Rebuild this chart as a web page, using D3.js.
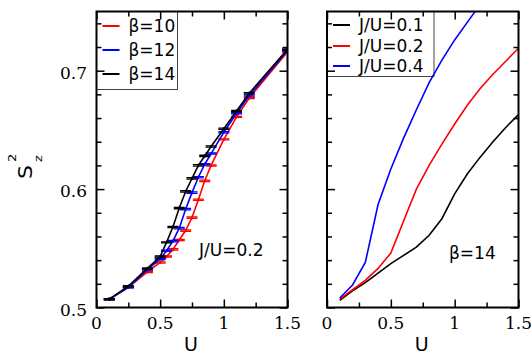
<!DOCTYPE html>
<html>
<head>
<meta charset="utf-8">
<script src="https://cdn.jsdelivr.net/npm/d3@7"></script>
<style>
  body { margin: 0; background: #fff; }
  svg { display: block; }
</style>
</head>
<body>
<svg id="chart" width="532" height="356"></svg>
<script>
// left panel : J/U=0.2, three temperatures, with error bars
const uLeft = [0.1, 0.25, 0.4, 0.5, 0.55, 0.6, 0.65, 0.7, 0.75, 0.8, 0.85, 0.9, 1.0, 1.1, 1.2, 1.5];
const sBeta10 = [0.507, 0.517, 0.530, 0.538, 0.543, 0.549, 0.557, 0.565, 0.576, 0.591, 0.607, 0.620, 0.642, 0.661, 0.677, 0.716];
const sBeta12 = [0.507, 0.517, 0.532, 0.541, 0.548, 0.556, 0.567, 0.583, 0.597, 0.610, 0.621, 0.630, 0.648, 0.664, 0.679, 0.717];
const sBeta14 = [0.507, 0.518, 0.533, 0.543, 0.555, 0.568, 0.584, 0.598, 0.609, 0.620, 0.628, 0.636, 0.651, 0.666, 0.681, 0.718];
const errBeta10 = [0.0005, 0.0005, 0.0005, 0.0005, 0.0005, 0.0006, 0.0006, 0.0006, 0.0006, 0.0006, 0.0006, 0.0005, 0.0005, 0.0005, 0.0005, 0.0005];
const errBeta12 = [0.0005, 0.0005, 0.0005, 0.0005, 0.0005, 0.0006, 0.0006, 0.0006, 0.0006, 0.0006, 0.0006, 0.0005, 0.0005, 0.0005, 0.0005, 0.0005];
const errBeta14 = [0.0005, 0.0005, 0.0005, 0.0005, 0.0005, 0.0006, 0.0006, 0.0006, 0.0006, 0.0006, 0.0006, 0.0005, 0.0005, 0.0005, 0.0005, 0.0005];
const leftNames = ['β=10', 'β=12', 'β=14'];

// right panel : beta=14, three Hund couplings
const uRight = [0.1, 0.2, 0.3, 0.4, 0.5, 0.6, 0.7, 0.8, 0.9, 1.0, 1.1, 1.2, 1.3, 1.4, 1.5];
const sJ01 = [0.506, 0.514, 0.521, 0.529, 0.537, 0.544, 0.551, 0.561, 0.575, 0.596, 0.613, 0.627, 0.640, 0.652, 0.663];
const sJ02 = [0.507, 0.515, 0.523, 0.533, 0.546, 0.573, 0.600, 0.620, 0.638, 0.655, 0.671, 0.685, 0.697, 0.708, 0.719];
const uJ04 = [0.1, 0.2, 0.3, 0.4, 0.5, 0.6, 0.7, 0.8, 0.9, 1.0, 1.1, 1.2];
const sJ04 = [0.508, 0.519, 0.538, 0.587, 0.617, 0.643, 0.667, 0.690, 0.709, 0.726, 0.741, 0.756];
const rightNames = ['J/U=0.1', 'J/U=0.2', 'J/U=0.4'];

const xTicks = [0, 0.5, 1, 1.5];
const xMinor = [0.25, 0.75, 1.25];
const yTicks = [0.5, 0.6, 0.7];
const yMinor = [0.52, 0.54, 0.56, 0.58, 0.62, 0.64, 0.66, 0.68, 0.72, 0.74];

const svg = d3.select('#chart');
const yTop = 11.5, yBot = 307.5;
const y = d3.scaleLinear().domain([0.5, 0.75]).range([yBot, yTop]);
const xL = d3.scaleLinear().domain([0, 1.5]).range([96.5, 287.5]);
const xR = d3.scaleLinear().domain([0, 1.5]).range([327, 518.5]);

const sans = 'DejaVu Sans, sans-serif';
const serif = 'DejaVu Serif, serif';

function clip(id, x) {
  svg.append('clipPath').attr('id', id)
    .append('rect')
    .attr('x', x.range()[0]).attr('y', yTop)
    .attr('width', x.range()[1] - x.range()[0]).attr('height', yBot - yTop);
}
clip('clipL', xL);
clip('clipR', xR);

// ticks pointing inwards on all four sides
function ticks(x) {
  const g = svg.append('g');
  const w = x.range()[1] - x.range()[0];
  const sides = [
    [() => d3.axisBottom(x), `translate(0,${yBot})`, xTicks, xMinor],
    [() => d3.axisTop(x), `translate(0,${yTop})`, xTicks, xMinor],
    [() => d3.axisLeft(y), `translate(${x.range()[0]},0)`, yTicks, yMinor],
    [() => d3.axisRight(y), `translate(${x.range()[1]},0)`, yTicks, yMinor]
  ];
  sides.forEach(([mk, tr, major, minor]) => {
    const a = g.append('g').attr('transform', tr)
      .call(mk().tickValues(major).tickSize(-8).tickFormat(''));
    const b = g.append('g').attr('transform', tr)
      .call(mk().tickValues(minor).tickSize(-5).tickFormat(''));
    [a, b].forEach(s => {
      s.select('.domain').remove();
      s.selectAll('line').attr('stroke', '#000').attr('stroke-width', 1.5);
    });
  });
  g.append('rect')
    .attr('x', x.range()[0]).attr('y', yTop)
    .attr('width', w).attr('height', yBot - yTop)
    .attr('fill', 'none').attr('stroke', '#000').attr('stroke-width', 2);
}

function legend(x0, y0, w, h, rows, names, colors) {
  const g = svg.append('g');
  g.append('rect').attr('x', x0).attr('y', y0).attr('width', w).attr('height', h)
    .attr('fill', '#fff').attr('stroke', '#444').attr('stroke-width', 1);
  names.forEach((n, i) => {
    g.append('line').attr('x1', x0 + 6).attr('x2', x0 + 23)
      .attr('y1', rows[i]).attr('y2', rows[i])
      .attr('stroke', colors[i]).attr('stroke-width', 2);
    g.append('text').attr('x', x0 + 32).attr('y', rows[i] + 6)
      .attr('font-family', sans).attr('font-size', 17).text(n);
  });
}

// ---- left panel
const leftSeries = [
  { s: sBeta10, e: errBeta10, c: '#ff0000' },
  { s: sBeta12, e: errBeta12, c: '#0000ff' },
  { s: sBeta14, e: errBeta14, c: '#000000' }
];
legend(96.5, 11.5, 81, 78, [26, 50, 74], leftNames, leftSeries.map(d => d.c));

const gl = svg.append('g').attr('clip-path', 'url(#clipL)');
leftSeries.forEach(ser => {
  const pts = uLeft.map((u, i) => [u, ser.s[i], ser.e[i]]);
  gl.append('path').datum(pts)
    .attr('d', d3.line().x(d => xL(d[0])).y(d => y(d[1])))
    .attr('fill', 'none').attr('stroke', ser.c).attr('stroke-width', 1.6);
  const eb = gl.append('g').attr('stroke', ser.c).attr('stroke-width', 1.3);
  pts.forEach(d => {
    const cx = xL(d[0]);
    eb.append('line').attr('x1', cx).attr('x2', cx)
      .attr('y1', y(d[1] - d[2]) + 1).attr('y2', y(d[1] + d[2]) - 1);
    [d[1] - d[2], d[1] + d[2]].forEach(v => {
      eb.append('line').attr('x1', cx - 5.5).attr('x2', cx + 5.5)
        .attr('y1', y(v)).attr('y2', y(v));
    });
  });
});
ticks(xL);

// ---- right panel
const rightSeries = [
  { u: uRight, s: sJ01, c: '#000000' },
  { u: uRight, s: sJ02, c: '#ff0000' },
  { u: uJ04, s: sJ04, c: '#0000ff' }
];
legend(327, 11.5, 107, 65, [25, 46, 66], rightNames, rightSeries.map(d => d.c));

const gr = svg.append('g').attr('clip-path', 'url(#clipR)');
rightSeries.forEach(ser => {
  gr.append('path').datum(ser.u.map((u, i) => [u, ser.s[i]]))
    .attr('d', d3.line().x(d => xR(d[0])).y(d => y(d[1])))
    .attr('fill', 'none').attr('stroke', ser.c).attr('stroke-width', 1.6);
});
ticks(xR);

// ---- tick labels
yTicks.forEach(v => {
  svg.append('text').attr('x', 87).attr('y', y(v) + 8)
    .attr('text-anchor', 'end').attr('font-family', serif).attr('font-size', 17)
    .text(d3.format('.1f')(v));
});
[xL, xR].forEach(x => {
  xTicks.forEach(v => {
    svg.append('text').attr('x', x(v)).attr('y', 329)
      .attr('text-anchor', 'middle').attr('font-family', serif).attr('font-size', 17)
      .text(v === 0 || v === 1 ? String(v) : v.toFixed(1));
  });
  svg.append('text').attr('x', (x.range()[0] + x.range()[1]) / 2 - 1).attr('y', 351)
    .attr('text-anchor', 'middle').attr('font-family', sans).attr('font-size', 19).text('U');
});

// ---- annotations
svg.append('text').attr('x', 199).attr('y', 256)
  .attr('font-family', sans).attr('font-size', 17).text('J/U=0.2');
svg.append('text').attr('x', 449).attr('y', 259)
  .attr('font-family', sans).attr('font-size', 17).text('β=14');

// y label S_z^2
const yl = svg.append('g').attr('transform', 'translate(32,179) rotate(-90) scale(1,0.85)')
  .attr('font-family', sans);
yl.append('text').attr('x', 0).attr('y', 0).attr('font-size', 22).text('S');
yl.append('text').attr('x', 17).attr('y', 12).attr('font-size', 13).text('z');
yl.append('text').attr('x', 17).attr('y', -19).attr('font-size', 13).text('2');
</script>
</body>
</html>
